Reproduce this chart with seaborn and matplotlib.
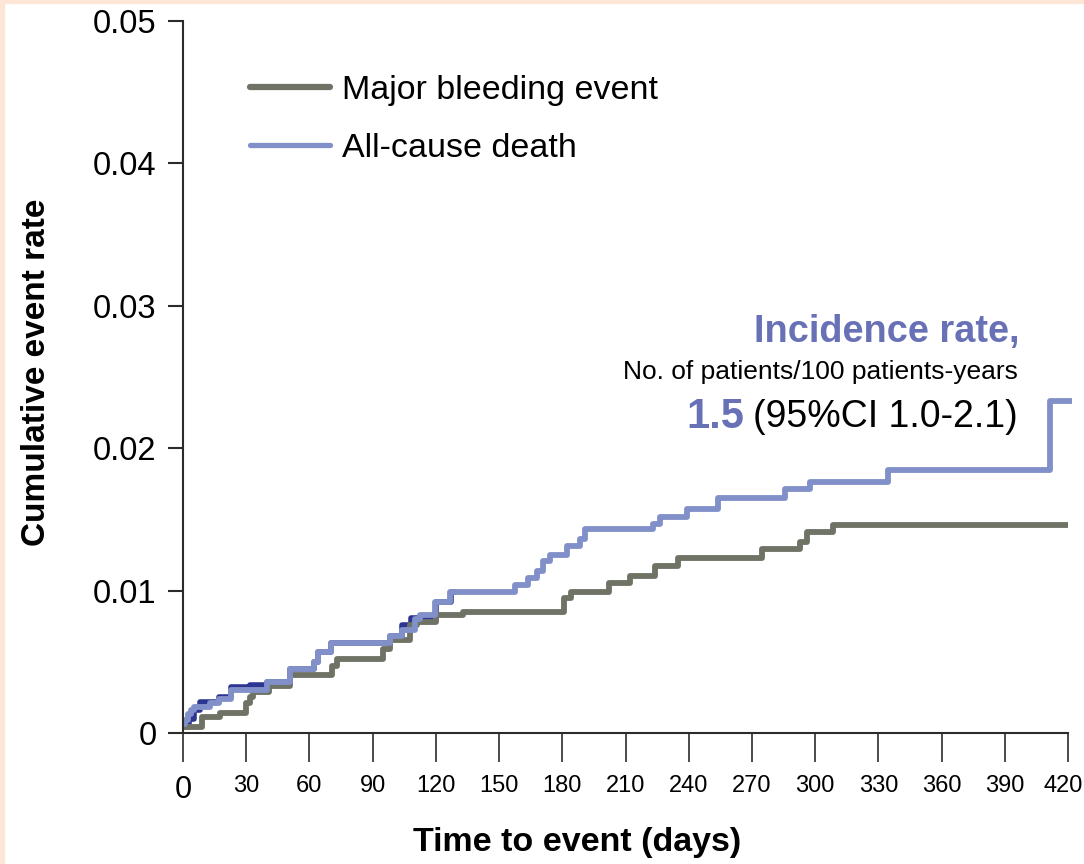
import matplotlib
matplotlib.use("Agg")
import matplotlib.pyplot as plt
import seaborn as sns
import pandas as pd
from matplotlib.lines import Line2D
from matplotlib.patches import Rectangle
from matplotlib.transforms import ScaledTranslation

# ---------------- data ----------------
bleed_t = [0, 9, 17.5, 30, 32, 33, 41, 51, 70.5, 73, 95, 98, 107.5, 111, 120, 133,
           181, 184, 202, 212, 224, 235, 275, 293, 296, 308.5, 420]
bleed_y = [0.0004, 0.0011, 0.0014, 0.0021, 0.0025, 0.0029, 0.0033, 0.0041, 0.0047, 0.0052,
           0.0059, 0.0065, 0.0076, 0.0078, 0.0083, 0.0085, 0.0095, 0.0099, 0.0105, 0.0110,
           0.0117, 0.0123, 0.0129, 0.0134, 0.0141, 0.0146, 0.0146]

death_t = [0, 1, 2.5, 4, 5, 13, 17, 23, 40, 51, 62, 64, 70, 98, 104, 110, 112.5, 119.5,
           126.5, 157.5, 163.5, 168, 171, 174, 182, 188.5, 191, 223, 226.5, 239, 254,
           285.5, 297.5, 334.5, 411.5, 422]
death_y = [0.0006, 0.0009, 0.0013, 0.0016, 0.0018, 0.0021, 0.0024, 0.0030, 0.0036, 0.0045,
           0.0050, 0.0057, 0.0063, 0.0068, 0.0072, 0.0080, 0.0083, 0.0092, 0.0099, 0.0104,
           0.0109, 0.0114, 0.0121, 0.0125, 0.0131, 0.0136, 0.0143, 0.0147, 0.0152, 0.0157,
           0.0165, 0.0171, 0.0176, 0.0185, 0.0233, 0.0233]

# darker underlying curve, mostly hidden below the all-cause death curve
under_t = [0, 3, 5, 8, 17, 23, 32, 40, 51, 62, 64, 70, 98, 104, 108, 120, 127, 130]
under_y = [0.0004, 0.0010, 0.0016, 0.0022, 0.0025, 0.0032, 0.0034, 0.0036, 0.0045, 0.0050,
           0.0057, 0.0063, 0.0068, 0.0076, 0.0081, 0.0092, 0.0099, 0.0099]

series_names = ["Major bleeding event", "All-cause death"]
x_ticks = [0, 30, 60, 90, 120, 150, 180, 210, 240, 270, 300, 330, 360, 390, 420]
y_ticks = [0, 0.01, 0.02, 0.03, 0.04, 0.05]
y_tick_labels = ["0", "0.01", "0.02", "0.03", "0.04", "0.05"]

# ---------------- styling ----------------
GRAY = "#6f7366"
BLUE = "#8290c9"
NAVY = "#2c3592"
TITLE_BLUE = "#6870b6"
AX = "#2b2b2b"
FONT = "Liberation Sans"

sns.set_theme(style="white")
plt.rcParams["font.family"] = [FONT, "DejaVu Sans"]
plt.rcParams["text.color"] = "black"
plt.rcParams["axes.labelcolor"] = "black"

fig = plt.figure(figsize=(10.84, 8.64), dpi=100)
fig.patch.set_facecolor("white")
# light peach frame on the left and top edges
fig.patches.append(Rectangle((0, 0), 4 / 1084, 1, transform=fig.transFigure,
                             color="#fde6d6", zorder=0))
fig.patches.append(Rectangle((0, 1 - 3 / 864), 1, 3 / 864, transform=fig.transFigure,
                             color="#fde6d6", zorder=0))

ax = fig.add_axes([183 / 1084, 1 - 733 / 864, (1068 - 183) / 1084, (733 - 21) / 864])
ax.set_facecolor("white")

df = pd.concat([
    pd.DataFrame({"t": bleed_t, "y": bleed_y, "series": series_names[0]}),
    pd.DataFrame({"t": death_t, "y": death_y, "series": series_names[1]}),
])
under = pd.DataFrame({"t": under_t, "y": under_y})

sns.lineplot(data=under, x="t", y="y", ax=ax, color=NAVY, linewidth=4.0,
             drawstyle="steps-post", estimator=None, legend=False)
sns.lineplot(data=df, x="t", y="y", hue="series", hue_order=series_names,
             palette=[GRAY, BLUE], ax=ax, linewidth=4.2, drawstyle="steps-post",
             estimator=None, legend=False)
for ln in ax.lines:
    ln.set_clip_on(False)
    ln.set_solid_capstyle("butt")
ax.lines[1].set_zorder(2.1)
ax.lines[2].set_zorder(2.2)

ax.set_xlim(0, 420)
ax.set_ylim(0, 0.05)
ax.set_xticks(x_ticks)
ax.set_yticks(y_ticks)
ax.set_yticklabels(y_tick_labels)
ax.set_xticklabels([str(v) for v in x_ticks])

for sp in ["top", "right"]:
    ax.spines[sp].set_visible(False)
for sp in ["left", "bottom"]:
    ax.spines[sp].set_color(AX)
    ax.spines[sp].set_linewidth(1.5)

ax.tick_params(axis="y", direction="out", length=11, width=1.5, color=AX,
               pad=8, labelsize=23.5, labelcolor="black", left=True)
ax.tick_params(axis="x", direction="out", length=21, width=1.2, color=AX,
               pad=9, labelsize=17, labelcolor="black", bottom=True)
xlabels = ax.get_xticklabels()
for i, lab in enumerate(xlabels):
    lab.set_fontfamily([FONT])
    if i == 0:
        lab.set_fontsize(22)
xlabels[-1].set_transform(xlabels[-1].get_transform()
                          + ScaledTranslation(-5 / 100, 0, fig.dpi_scale_trans))
for lab in ax.get_yticklabels():
    lab.set_fontfamily([FONT])

ax.set_xlabel("Time to event (days)", fontsize=24.5, fontweight="bold", family=[FONT],
              color="black")
ax.xaxis.set_label_coords((577 - 183) / 885, -(827 - 733) / 712)
ax.set_ylabel("Cumulative event rate", fontsize=24, fontweight="bold", family=[FONT],
              color="black")
ax.yaxis.set_label_coords(-(183 - 52) / 885, (733 - 372) / 712)

# legend
handles = [Line2D([0], [0], color=GRAY, lw=4.5),
           Line2D([0], [0], color=BLUE, lw=3.8)]
leg = ax.legend(handles, series_names, loc="upper left",
                bbox_to_anchor=((250 - 183) / 885, (733 - 75) / 712),
                frameon=False, handlelength=2.34, handletextpad=0.35,
                borderpad=0, borderaxespad=0, labelspacing=0.78,
                prop={"family": FONT, "size": 24.5})
for txt in leg.get_texts():
    txt.set_color("black")

# incidence annotation
xr = (1020 - 183) / 885
ax.text(xr, (733 - 332) / 712, "Incidence rate,", transform=ax.transAxes,
        ha="right", va="center", fontsize=27.3, fontweight="bold", color=TITLE_BLUE,
        family=[FONT])
ax.text(xr - 0.002, (733 - 372) / 712, "No. of patients/100 patients-years",
        transform=ax.transAxes, ha="right", va="center", fontsize=19,
        color="black", family=[FONT])
ci = ax.text(xr - 0.002, (733 - 417) / 712, "(95%CI 1.0-2.1)", transform=ax.transAxes,
             ha="right", va="center", fontsize=27, color="black", family=[FONT])
ax.annotate("1.5", xy=(0, 0.5), xycoords=ci, xytext=(-7, 0), textcoords="offset points",
            ha="right", va="center", fontsize=30, fontweight="bold", color=TITLE_BLUE,
            family=[FONT])

fig.savefig("out.png", dpi=100, facecolor="white")
